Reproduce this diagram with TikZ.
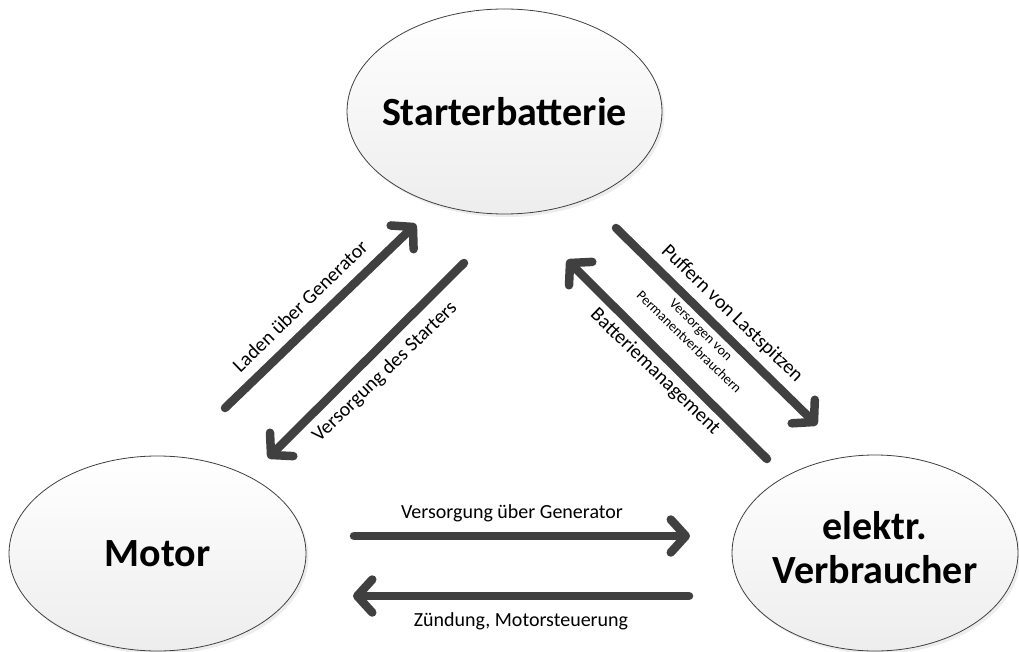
\documentclass[tikz,border=0pt]{standalone}
\usepackage{fontspec}
\setmainfont{Carlito}
\usetikzlibrary{arrows.meta,shapes.geometric,shadows}
\definecolor{flowgray}{HTML}{404040}
\begin{document}
\begin{tikzpicture}[x=1pt,y=-1pt,
  state/.style={ellipse, draw=black!75, line width=0.8pt,
    top color=white, bottom color=black!7, inner sep=0pt,
    font=\fontsize{40}{44}\selectfont\bfseries,
    drop shadow={shadow xshift=2.5pt, shadow yshift=-3pt, opacity=0.18, fill=black!40}},
  flow/.style={draw=flowgray, line width=8.5pt, line cap=round,
    -{Straight Barb[length=15pt,width=33pt,round]},
    preaction={draw=black!10, transform canvas={xshift=2pt,yshift=-2.5pt}}},
  lbl/.style={font=\fontsize{20}{24}\selectfont, inner sep=0pt},
  smalllbl/.style={font=\fontsize{14}{17}\selectfont, align=center, inner sep=0pt}]

\useasboundingbox (0,0) rectangle (1019,652);

% the three parts of the system
\node[state, minimum width=315pt, minimum height=205pt] (bat) at (504.5,111.5)
  {\makebox[0pt]{Starterbatterie}};
\node[state, minimum width=297pt, minimum height=195pt] (mot) at (157.5,553.5)
  {\makebox[0pt]{Motor}};
\node[state, minimum width=286pt, minimum height=196pt] (ver) at (875,553)
  {\makebox[0pt]{\raisebox{-4pt}{\begin{tabular}{@{}c@{}}elektr.\\Verbraucher\end{tabular}}}};

% end points of the energy flows
\coordinate (lgS) at (225,408);  \coordinate (lgE) at (416,224);
\coordinate (vsS) at (464,263);  \coordinate (vsE) at (268,458);
\coordinate (plS) at (616,228);  \coordinate (plE) at (817,425);
\coordinate (bmS) at (767,459);  \coordinate (bmE) at (567,260);
\coordinate (vgS) at (354,536);  \coordinate (vgE) at (690,536);
\coordinate (zmS) at (689,596);  \coordinate (zmE) at (353,596);

\draw[flow] (lgS) -- (lgE);
\draw[flow] (vsS) -- (vsE);
\draw[flow] (plS) -- (plE);
\draw[flow] (bmS) -- (bmE);
\draw[flow] (vgS) -- (vgE);
\draw[flow] (zmS) -- (zmE);

% flow labels
\node[lbl, rotate=44] (lgL) at (300,306) {Laden über Generator};
\node[lbl, rotate=44] (vsL) at (385,372) {Versorgung des Starters};
\node[lbl, rotate=-44] (plL) at (732,314) {Puffern von Lastspitzen};
\node[lbl, rotate=-44] (bmL) at (655,372) {Batteriemanagement};
\node[smalllbl, rotate=-44] (pvL) at (695,336) {Versorgen von\\Permanentverbrauchern};
\node[lbl] (vgL) at (512,513) {Versorgung über Generator};
\node[lbl] (zmL) at (521,621) {Zündung, Motorsteuerung};
\end{tikzpicture}
\end{document}
